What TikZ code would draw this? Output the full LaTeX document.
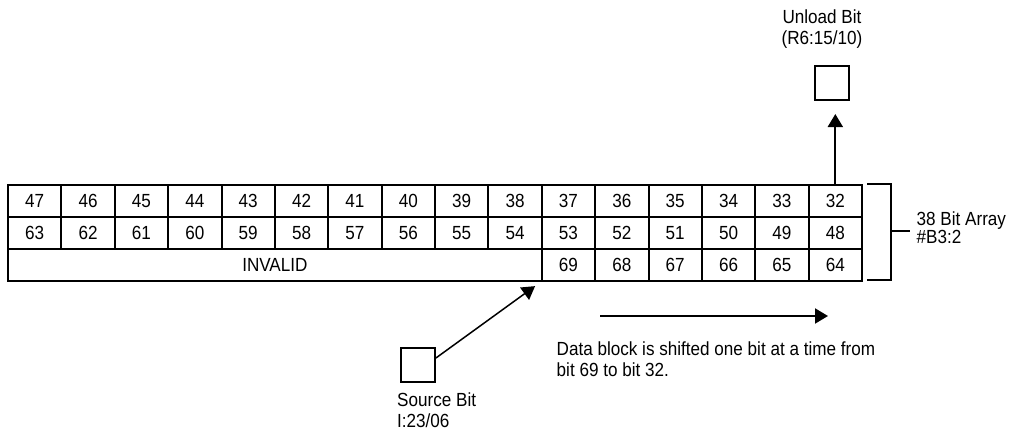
\documentclass[tikz,border=0pt]{standalone}
\usepackage{fontspec}
\setmainfont{Liberation Sans}[FakeStretch=0.9]
\usetikzlibrary{arrows.meta,calc}
\begin{document}
\begin{tikzpicture}[x=1pt,y=-1pt,
  cell/.style={draw, line width=2pt, minimum width=53.375pt, minimum height=32pt, inner sep=0pt, anchor=north west, font=\fontsize{19}{21}\selectfont},
  bitbox/.style={draw, line width=2pt, minimum size=34pt, inner sep=0pt},
  lbl/.style={inner sep=0pt, font=\fontsize{19}{21}\selectfont},
  arr/.style={line width=2pt, -{Triangle[length=13pt,width=15pt]}}]
\useasboundingbox (0,0) rectangle (1017,431);
% grid
\foreach \k [evaluate=\k as \a using int(47-\k), evaluate=\k as \b using int(63-\k)] in {0,...,15} {
  \node[cell] (r1-\k) at ({7+53.375*\k},184) {\a};
  \node[cell] (r2-\k) at ({7+53.375*\k},216) {\b};
}
\foreach \k [evaluate=\k as \c using int(79-\k)] in {10,...,15} {
  \node[cell] (r3-\k) at ({7+53.375*\k},248) {\c};
}
\node[cell, minimum width=533.75pt] (inv) at (7,248) {INVALID};
% bracket
\coordinate (bt) at (867,184);
\coordinate (bb) at (867,280);
\coordinate (bm) at (891,231);
\coordinate (bx) at (910,231);
\draw[line width=2pt] (bt) -- (891,184) -- (891,280) -- (bb);
\draw[line width=2pt] (bm) -- (bx);
\node[lbl, anchor=north west, align=left, font=\fontsize{19}{15.5}\selectfont] (arrlbl) at (916.5,211.5) {38 Bit Array\\\#B3:2};
% unload bit
\node[bitbox] (ub) at (832,83) {};
\node[lbl, anchor=north, align=center] (ublbl) at (822,10) {Unload Bit\\(R6:15/10)};
\draw[arr, shorten >=13pt] (r1-15.north) -- (r1-15.north |- ub.south);
% source bit
\node[bitbox] (sb) at (418,364.5) {};
\node[lbl, anchor=north west, align=left] (sblbl) at (397,393) {Source Bit\\I:23/06};
\draw[arr, line width=1.5pt, shorten >=7pt] (sb.20) -- (r3-10.south west);
% shift arrow
\coordinate (s1) at (600,316);
\coordinate (s2) at (828,316);
\draw[arr] (s1) -- (s2);
\node[lbl, anchor=north west, align=left] (shlbl) at (556.5,342) {Data block is shifted one bit at a time from\\bit 69 to bit 32.};
\end{tikzpicture}
\end{document}
